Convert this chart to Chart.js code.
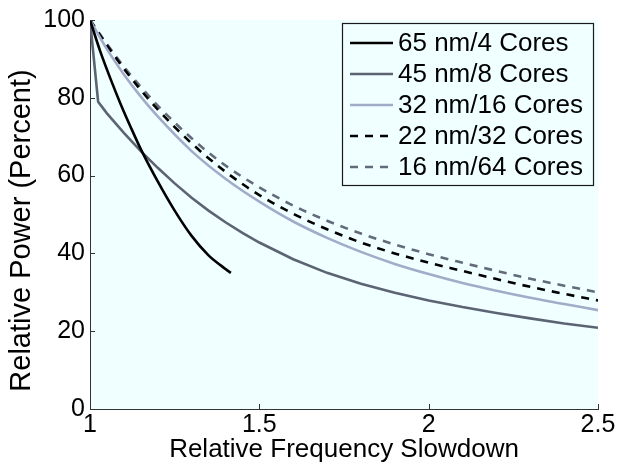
<!DOCTYPE html>
<html><head><meta charset="utf-8">
<script src="https://cdn.jsdelivr.net/npm/chart.js@4.4.0/dist/chart.umd.min.js"></script>
<style>html,body{margin:0;padding:0;background:#fff;}canvas{display:block;}</style>
</head><body>
<canvas id="c" width="619" height="470"></canvas>
<script>
// ---- data ----
const seriesNames = ["65 nm/4 Cores", "45 nm/8 Cores", "32 nm/16 Cores", "22 nm/32 Cores", "16 nm/64 Cores"];
const x65 = [1, 1.03, 1.06, 1.09, 1.12, 1.15, 1.2, 1.25, 1.3, 1.35, 1.4, 1.416];
const p65 = [100, 92, 85, 78.5, 72.5, 66.8, 58.5, 51, 44.5, 39.5, 36, 35];
const x45 = [1, 1.024, 1.05, 1.1, 1.15, 1.2, 1.25, 1.3, 1.35, 1.4, 1.45, 1.5, 1.6, 1.7, 1.8, 1.9, 2.0, 2.1, 2.2, 2.3, 2.4, 2.5];
const p45 = [100, 79, 76, 71, 66.3, 62, 58, 54.3, 51, 48, 45.3, 42.8, 38.5, 35, 32.2, 29.9, 27.9, 26.2, 24.7, 23.3, 22, 20.9];
const xFine = [1, 1.05, 1.1, 1.15, 1.2, 1.3, 1.4, 1.5, 1.6, 1.7, 1.8, 1.9, 2.0, 2.1, 2.2, 2.3, 2.4, 2.5];
const p32 = [100, 92.5, 86, 80.3, 75.2, 66.3, 59.2, 53.3, 48.2, 44, 40.4, 37.3, 34.7, 32.4, 30.4, 28.6, 27, 25.4];
const p22 = [100, 93.5, 87.5, 82, 77, 68.3, 61, 55, 50.2, 46.2, 42.8, 40, 37.6, 35.5, 33.4, 31.4, 29.6, 27.9];
const p16 = [100, 93.8, 88, 82.8, 78, 69.6, 62.6, 57, 52.3, 48.4, 45.1, 42.3, 39.8, 37.6, 35.5, 33.5, 31.7, 30];
const xTickValues = [1, 1.5, 2, 2.5];
const yTickValues = [0, 20, 40, 60, 80, 100];
const xTitle = "Relative Frequency Slowdown";
const yTitle = "Relative Power (Percent)";

const FONT = "'Liberation Sans', Arial, Helvetica, sans-serif";
const pts = (xs, ys) => xs.map((x, i) => ({x: x, y: ys[i]}));

const styles = [
  {color: '#000000', dash: [], smooth: true},
  {color: '#5c6372', dash: [], smooth: false},
  {color: '#a2abc8', dash: [], smooth: true},
  {color: '#000000', dash: [8, 7], smooth: true},
  {color: '#636b7a', dash: [8, 7], smooth: true}
];
const seriesData = [pts(x65, p65), pts(x45, p45), pts(xFine, p32), pts(xFine, p22), pts(xFine, p16)];

const datasets = seriesNames.map((n, i) => ({
  label: n,
  data: seriesData[i],
  borderColor: styles[i].color,
  borderDash: styles[i].dash,
  borderWidth: 2.6,
  pointRadius: 0,
  showLine: true,
  fill: false,
  tension: 0,
  cubicInterpolationMode: styles[i].smooth ? 'monotone' : 'default'
}));

const bgPlugin = {
  id: 'bg',
  beforeDraw(chart) {
    const {ctx, chartArea: a} = chart;
    ctx.save();
    ctx.fillStyle = '#f0ffff';
    ctx.fillRect(a.left, a.top, a.right - a.left, a.bottom - a.top);
    ctx.restore();
  }
};

const tickPlugin = {
  id: 'inticks',
  afterDraw(chart) {
    const {ctx, chartArea: a, scales} = chart;
    ctx.save();
    ctx.strokeStyle = '#333';
    ctx.lineWidth = 1;
    ctx.beginPath();
    scales.x.ticks.forEach(t => {
      const px = Math.round(scales.x.getPixelForValue(t.value)) + 0.5;
      ctx.moveTo(px, a.bottom); ctx.lineTo(px, a.bottom - 5);
    });
    scales.y.ticks.forEach(t => {
      const py = Math.round(scales.y.getPixelForValue(t.value)) + 0.5;
      ctx.moveTo(a.left, py); ctx.lineTo(a.left + 5, py);
    });
    ctx.stroke();
    // y axis title
    ctx.translate(22, (a.top + a.bottom) / 2 + 16);
    ctx.rotate(-Math.PI / 2);
    ctx.font = '29px ' + FONT;
    ctx.fillStyle = '#000';
    ctx.textAlign = 'center';
    ctx.textBaseline = 'middle';
    ctx.fillText(yTitle, 0, 0);
    ctx.restore();
  }
};

const legendPlugin = {
  id: 'boxlegend',
  afterDraw(chart) {
    const ctx = chart.ctx;
    const bx = 342, by = 23, bw = 251, bh = 162;
    ctx.save();
    ctx.fillStyle = '#f0ffff';
    ctx.fillRect(bx, by, bw, bh);
    ctx.strokeStyle = '#1a1a1a';
    ctx.lineWidth = 1.2;
    ctx.strokeRect(bx + 0.5, by + 0.5, bw, bh);
    ctx.font = '26px ' + FONT;
    ctx.textBaseline = 'middle';
    ctx.fillStyle = '#000';
    chart.data.datasets.forEach((ds, i) => {
      const y = 43 + i * 31;
      ctx.beginPath();
      ctx.setLineDash(ds.borderDash || []);
      ctx.strokeStyle = ds.borderColor;
      ctx.lineWidth = 2.6;
      ctx.moveTo(350, y); ctx.lineTo(393, y);
      ctx.stroke();
      ctx.setLineDash([]);
      ctx.fillText(ds.label, 398, y + 1);
    });
    ctx.restore();
  }
};

new Chart(document.getElementById('c'), {
  type: 'scatter',
  data: {datasets},
  options: {
    responsive: false,
    animation: false,
    devicePixelRatio: 1,
    layout: {padding: {left: 0, right: 21, top: 15, bottom: 0}},
    plugins: {legend: {display: false}, tooltip: {enabled: false}},
    scales: {
      x: {
        type: 'linear', min: 1, max: 2.5,
        afterBuildTicks: s => { s.ticks = xTickValues.map(v => ({value: v})); },
        afterFit: s => { s.height = 61; },
        grid: {display: false, drawTicks: false},
        border: {display: true, color: '#333', width: 1},
        ticks: {color: '#000', font: {family: FONT, size: 25}, padding: 1, maxRotation: 0,
                callback: v => String(v)},
        title: {display: true, text: xTitle, color: '#000', font: {family: FONT, size: 26, lineHeight: 1},
                padding: {top: 0, bottom: 7}}
      },
      y: {
        type: 'linear', min: 0, max: 100,
        afterBuildTicks: s => { s.ticks = yTickValues.map(v => ({value: v})); },
        afterFit: s => { s.width = 90; },
        grid: {display: false, drawTicks: false},
        border: {display: true, color: '#333', width: 1},
        ticks: {color: '#000', font: {family: FONT, size: 25}, padding: 5, callback: v => String(v)},
        title: {display: false, text: yTitle}
      }
    }
  },
  plugins: [bgPlugin, tickPlugin, legendPlugin]
});
</script>
</body></html>
